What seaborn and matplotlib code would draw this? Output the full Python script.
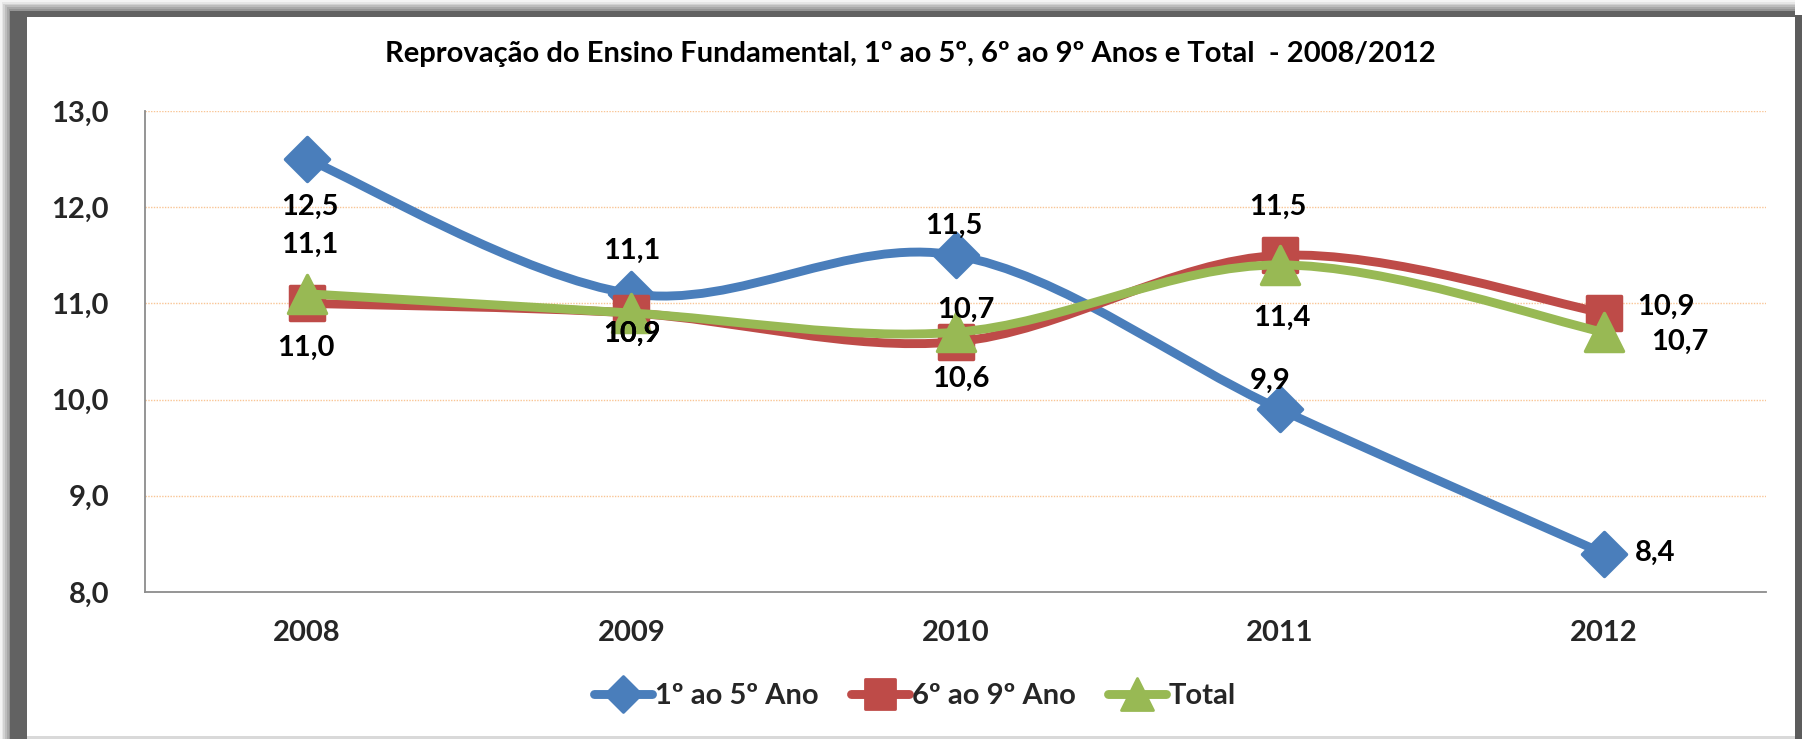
import numpy as np
import matplotlib
matplotlib.use("Agg")
import matplotlib.pyplot as plt
import seaborn as sns
from matplotlib.path import Path
from matplotlib.patches import PathPatch, Rectangle
from matplotlib.markers import MarkerStyle
from matplotlib.lines import Line2D

# ── Data ──────────────────────────────────────────────────────────────────────
YEARS = ["2008", "2009", "2010", "2011", "2012"]
ANOS_1_5 = [12.5, 11.1, 11.5, 9.9, 8.4]
ANOS_6_9 = [11.0, 10.9, 10.6, 11.5, 10.9]
TOTAL = [11.1, 10.9, 10.7, 11.4, 10.7]
SERIES_NAMES = ["1º ao 5º Ano", "6º ao 9º Ano", "Total"]
Y_TICKS = [8, 9, 10, 11, 12, 13]
TITLE = "Reprovação do Ensino Fundamental, 1º ao 5º, 6º ao 9º Anos e Total  - 2008/2012"

# ── Style ─────────────────────────────────────────────────────────────────────
W, H, DPI = 1802, 739, 100
COLORS = ["#4A7EBB", "#BE4B48", "#98B954"]
MARKERS = ["D", "s", "^"]
MARKER_SIZES = [22, 25, 27]          # points
LINE_W = 6.4
FONT = ["Lato", "DejaVu Sans"]
FS = 21

# label offsets in pixels (dx right, dy down) relative to each point
LABEL_OFFSETS = [
    [(3, 48), (1, -43), (-2, -29), (-10, -28), (51, -1)],
    [(-1, 44), (1, 21), (5, 37), (-2, -48), (62, -6)],
    [(3, -49), (1, 21), (10, -22), (2, 53), (76, 10)],
]


def smooth_path(xs, ys):
    """Excel-style smoothed line as cubic Bezier segments."""
    pts = np.column_stack([xs, ys]).astype(float)
    n = len(pts)
    verts = [pts[0]]
    codes = [Path.MOVETO]
    for i in range(n - 1):
        p0 = pts[max(i - 1, 0)]
        p1 = pts[i]
        p2 = pts[i + 1]
        p3 = pts[min(i + 2, n - 1)]
        c1 = p1 + (p2 - p0) / 6.0
        c2 = p2 - (p3 - p1) / 6.0
        verts += [c1, c2, p2]
        codes += [Path.CURVE4] * 3
    return Path(verts, codes)


def fmt(v):
    return f"{v:.1f}".replace(".", ",")


sns.set_style("white")
plt.rcParams["font.family"] = FONT
plt.rcParams["font.weight"] = "bold"

fig = plt.figure(figsize=(W / DPI, H / DPI), dpi=DPI, facecolor="white")
ax = fig.add_axes([145 / W, 1 - 592 / H, (1766 - 145) / W, (592 - 111) / H])

x_idx = np.arange(len(YEARS))
all_series = [ANOS_1_5, ANOS_6_9, TOTAL]

for k, vals in enumerate(all_series):
    patch = PathPatch(smooth_path(x_idx, vals), facecolor="none",
                      edgecolor=COLORS[k], lw=LINE_W, capstyle="round",
                      joinstyle="round", zorder=3 + k)
    ax.add_patch(patch)
    sns.lineplot(x=x_idx, y=vals, ax=ax, linestyle="",
                 marker=MarkerStyle(MARKERS[k], joinstyle="round"),
                 markersize=MARKER_SIZES[k], color=COLORS[k],
                 markeredgecolor=COLORS[k], markeredgewidth=2.5,
                 zorder=3 + k, legend=False)

for k, vals in enumerate(all_series):
    for i, v in enumerate(vals):
        dx, dy = LABEL_OFFSETS[k][i]
        ax.annotate(fmt(v), (x_idx[i], v), xytext=(dx, -dy),
                    textcoords="offset pixels", ha="center", va="center",
                    fontsize=FS, fontweight="bold", color="black", zorder=10)

ax.set_xlim(-0.5, len(YEARS) - 0.5)
ax.set_ylim(Y_TICKS[0], Y_TICKS[-1])
ax.set_xticks(x_idx)
ax.set_xticklabels(YEARS)
ax.set_yticks(Y_TICKS)
ax.set_yticklabels([fmt(t) for t in Y_TICKS])
ax.tick_params(axis="both", length=0, labelsize=FS)
ax.tick_params(axis="y", pad=26)
ax.tick_params(axis="x", pad=20)
for lab in ax.get_xticklabels() + ax.get_yticklabels():
    lab.set_fontweight("bold")

ax.grid(False)
for t in Y_TICKS[1:]:
    ax.axhline(t, color="#F9C595", lw=1.0, ls=(0, (1, 1)), zorder=1)
for s in ["top", "right"]:
    ax.spines[s].set_visible(False)
for s in ["left", "bottom"]:
    ax.spines[s].set_color("#8C8C8C")
    ax.spines[s].set_linewidth(1.3)
ax.set_xlabel("")
ax.set_ylabel("")

fig.text(910 / W, 1 - 54 / H, TITLE, ha="center", va="center",
         fontsize=FS, fontweight="bold", color="black")

handles = [
    Line2D([], [], color=COLORS[k], lw=LINE_W, solid_capstyle="round",
           marker=MarkerStyle(MARKERS[k], joinstyle="round"),
           markersize=MARKER_SIZES[k] * 0.85, markeredgewidth=2,
           markeredgecolor=COLORS[k])
    for k in range(3)
]
fig.legend(handles, SERIES_NAMES, loc="center",
           bbox_to_anchor=(915 / W, 1 - 696 / H), ncol=3, frameon=False,
           handlelength=2.0, handletextpad=0.1, columnspacing=1.1,
           prop={"size": FS, "weight": "bold"})


# ── Frame ─────────────────────────────────────────────────────────────────────
def frect(x0, y0, x1, y1, color):
    fig.patches.append(Rectangle((x0 / W, 1 - y1 / H), (x1 - x0) / W,
                                 (y1 - y0) / H, transform=fig.transFigure,
                                 facecolor=color, edgecolor="none", zorder=0))


grad = ["#F4F4F4", "#E6E6E6", "#D2D2D2", "#BDBDBD", "#A8A8A8", "#959595"]
for j, c in enumerate(grad):
    frect(j * 1.7, j * 1.8, 10, H, c)
    frect(j * 1.7, j * 1.8, 1795, 11, c)
frect(10, 11, 27, H, "#626262")
frect(10, 11, 1795, 17, "#626262")
frect(1795, 15, W, H, "#5C5C5C")
frect(27, 736, 1795, H, "#D9D9D9")

fig.savefig("out.png", dpi=DPI, facecolor="white")
